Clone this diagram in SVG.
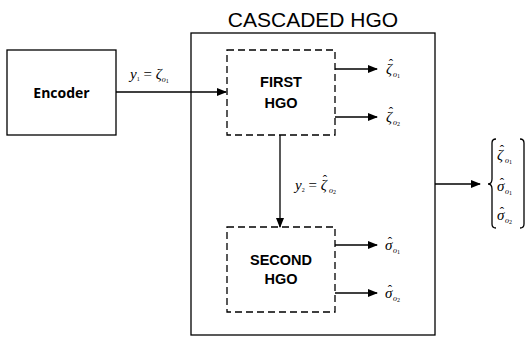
<svg xmlns="http://www.w3.org/2000/svg" width="526" height="341" viewBox="0 0 526 341">
<defs>
<marker id="ah" markerWidth="10" markerHeight="8" refX="9" refY="4" orient="auto" markerUnits="userSpaceOnUse">
<path d="M0,0 L10,4 L0,8 Z" fill="#000"/>
</marker>
<style>
.box{fill:#fff;stroke:#000;stroke-width:1.3}
.dash{fill:none;stroke:#000;stroke-width:1.3;stroke-dasharray:7,4}
.ln{fill:none;stroke:#000;stroke-width:1.3}
.lbl{font-family:"Liberation Sans",Arial,sans-serif;font-weight:bold;font-size:14.5px;text-anchor:middle}
.enc{font-family:"Open Sans","Liberation Sans",sans-serif;font-weight:bold;font-size:14px;text-anchor:middle}
.m{font-family:"Liberation Serif","Times New Roman",serif;font-style:italic;font-size:15px}
.h{font-size:13px;font-style:normal}
.s{font-size:8px}
.ss{font-size:6px;font-style:normal}
</style>
</defs>
<rect width="526" height="341" fill="#fff"/>
<g id="outer">
<rect class="box" x="191" y="33" width="244" height="302"/>
<text x="313" y="27" font-family="Liberation Sans,Arial,sans-serif" font-size="21" text-anchor="middle">CASCADED HGO</text>
</g>
<g id="encoder">
<rect class="box" x="7" y="50" width="109" height="85"/>
<text class="enc" x="61.5" y="98">Encoder</text>
</g>
<g id="first-hgo">
<rect class="dash" x="227" y="50" width="108" height="85"/>
<text class="lbl" x="281" y="87">FIRST</text>
<text class="lbl" x="281" y="108">HGO</text>
</g>
<g id="second-hgo">
<rect class="dash" x="227" y="227" width="108" height="85"/>
<text class="lbl" x="281" y="265">SECOND</text>
<text class="lbl" x="281" y="284">HGO</text>
</g>
<g id="connectors">
<line class="ln" x1="116" y1="92" x2="226" y2="92" marker-end="url(#ah)"/>
<line class="ln" x1="335" y1="69" x2="377" y2="69" marker-end="url(#ah)"/>
<line class="ln" x1="335" y1="117" x2="377" y2="117" marker-end="url(#ah)"/>
<line class="ln" x1="280" y1="135" x2="280" y2="227" marker-end="url(#ah)"/>
<line class="ln" x1="335" y1="245" x2="377" y2="245" marker-end="url(#ah)"/>
<line class="ln" x1="335" y1="293" x2="377" y2="293" marker-end="url(#ah)"/>
<line class="ln" x1="435" y1="184" x2="480" y2="184" marker-end="url(#ah)"/>
</g>
<g id="labels">
<text class="m" x="130" y="79" font-size="14">y<tspan class="ss" dy="2">1</tspan><tspan dy="-2" font-style="normal"> = </tspan>ζ<tspan class="s" dy="3">o</tspan><tspan class="ss" dy="1">1</tspan></text>
<text class="m" x="295" y="190" font-size="14">y<tspan class="ss" dy="2">2</tspan><tspan dy="-2" font-style="normal"> = </tspan>ζ<tspan class="h" x="322.8" dy="-6">ˆ</tspan><tspan class="s" x="329" dy="9">o</tspan><tspan class="ss" dy="1">2</tspan></text>
<text class="m" x="386" y="74">ζ<tspan class="h" x="388.8" dy="-6">ˆ</tspan><tspan class="s" x="393" dy="9">o</tspan><tspan class="ss" dy="1">1</tspan></text>
<text class="m" x="386" y="122">ζ<tspan class="h" x="388.8" dy="-6">ˆ</tspan><tspan class="s" x="393" dy="9">o</tspan><tspan class="ss" dy="1">2</tspan></text>
<text class="m" x="385" y="250">σ<tspan class="h" x="387.8" dy="-4">ˆ</tspan><tspan class="s" x="393" dy="7">o</tspan><tspan class="ss" dy="1">1</tspan></text>
<text class="m" x="385" y="298">σ<tspan class="h" x="387.8" dy="-4">ˆ</tspan><tspan class="s" x="393" dy="7">o</tspan><tspan class="ss" dy="1">2</tspan></text>
</g>
<g id="output-vector">
<path class="ln" stroke-width="1" d="M496,139 Q492,139 492,143 L492,179 Q492,184 488,184 Q492,184 492,189 L492,224 Q492,228 496,228"/>
<path class="ln" stroke-width="1" d="M520,139 Q524,139 524,143 L524,224 Q524,228 520,228"/>
<text class="m" x="497" y="160" font-size="16">ζ<tspan class="h" x="499.8" dy="-6">ˆ</tspan><tspan class="s" x="505" dy="9">o</tspan><tspan class="ss" dy="1">1</tspan></text>
<text class="m" x="497" y="191" font-size="16">σ<tspan class="h" x="499.8" dy="-4">ˆ</tspan><tspan class="s" x="505" dy="7">o</tspan><tspan class="ss" dy="1">1</tspan></text>
<text class="m" x="497" y="220" font-size="16">σ<tspan class="h" x="499.8" dy="-4">ˆ</tspan><tspan class="s" x="505" dy="7">o</tspan><tspan class="ss" dy="1">2</tspan></text>
</g>
</svg>
